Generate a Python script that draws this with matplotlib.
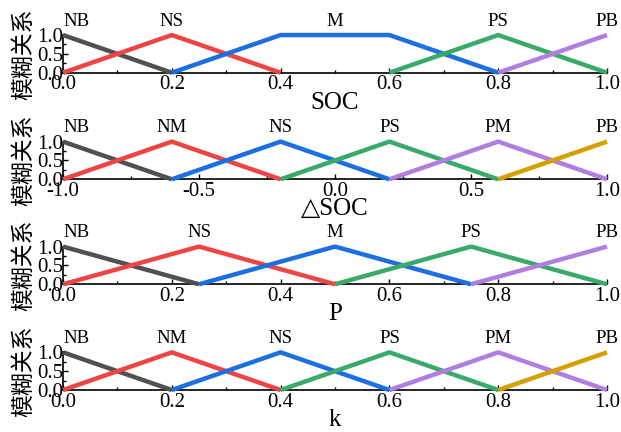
import matplotlib
matplotlib.use("Agg")
import matplotlib.pyplot as plt
from matplotlib.ticker import MultipleLocator

# membership functions: breakpoints and degrees for each fuzzy set
soc_names = ["NB", "NS", "M", "PS", "PB"]
soc_x = [[0, 0.2], [0, 0.2, 0.4], [0.2, 0.4, 0.6, 0.8], [0.6, 0.8, 1.0], [0.8, 1.0]]
soc_y = [[1, 0], [0, 1, 0], [0, 1, 1, 0], [0, 1, 0], [0, 1]]
soc_peaks = [0.0, 0.2, 0.5, 0.8, 1.0]

dsoc_names = ["NB", "NM", "NS", "PS", "PM", "PB"]
dsoc_x = [[-1, -0.6], [-1, -0.6, -0.2], [-0.6, -0.2, 0.2], [-0.2, 0.2, 0.6], [0.2, 0.6, 1.0], [0.6, 1.0]]
dsoc_y = [[1, 0], [0, 1, 0], [0, 1, 0], [0, 1, 0], [0, 1, 0], [0, 1]]
dsoc_peaks = [-1.0, -0.6, -0.2, 0.2, 0.6, 1.0]

p_names = ["NB", "NS", "M", "PS", "PB"]
p_x = [[0, 0.25], [0, 0.25, 0.5], [0.25, 0.5, 0.75], [0.5, 0.75, 1.0], [0.75, 1.0]]
p_y = [[1, 0], [0, 1, 0], [0, 1, 0], [0, 1, 0], [0, 1]]
p_peaks = [0.0, 0.25, 0.5, 0.75, 1.0]

k_names = ["NB", "NM", "NS", "PS", "PM", "PB"]
k_x = [[0, 0.2], [0, 0.2, 0.4], [0.2, 0.4, 0.6], [0.4, 0.6, 0.8], [0.6, 0.8, 1.0], [0.8, 1.0]]
k_y = [[1, 0], [0, 1, 0], [0, 1, 0], [0, 1, 0], [0, 1, 0], [0, 1]]
k_peaks = [0.0, 0.2, 0.4, 0.6, 0.8, 1.0]

xlabels = ["SOC", "\u25b3SOC", "P", "k"]
ylabel = "模糊关系"

colors = ["#505050", "#ee4444", "#1c6fe0", "#3aaa6a", "#b07ee0", "#d4a000"]
serif = ["Liberation Serif", "DejaVu Serif"]

panels = [
    (soc_names, soc_x, soc_y, soc_peaks, (0, 1), 0.2, 0.1),
    (dsoc_names, dsoc_x, dsoc_y, dsoc_peaks, (-1, 1), 0.5, 0.25),
    (p_names, p_x, p_y, p_peaks, (0, 1), 0.2, 0.1),
    (k_names, k_x, k_y, k_peaks, (0, 1), 0.2, 0.1),
]

fig = plt.figure(figsize=(6.21, 4.32), dpi=100)
bottoms = [0.8317, 0.585, 0.342, 0.0972]
height = 0.0872

for i, (names, xs, ys, peaks, xlim, major, minor) in enumerate(panels):
    ax = fig.add_axes([0.1014, bottoms[i], 0.8761, height])
    for j in range(len(names)):
        ax.plot(xs[j], ys[j], color=colors[j], lw=3.2, clip_on=False,
                solid_capstyle="butt", zorder=3)
        ha = "left" if j == 0 else "center"
        ax.text(peaks[j], 1.25, names[j], ha=ha, va="baseline",
                fontsize=13.5, family=serif)
    ax.set_xlim(*xlim)
    ax.set_ylim(0, 1)
    ax.spines["top"].set_visible(False)
    ax.spines["right"].set_visible(False)
    ax.spines["left"].set_linewidth(1.2)
    ax.spines["bottom"].set_linewidth(1.2)
    ax.xaxis.set_major_locator(MultipleLocator(major))
    ax.xaxis.set_minor_locator(MultipleLocator(minor))
    ax.yaxis.set_major_locator(MultipleLocator(0.5))
    ax.yaxis.set_minor_locator(MultipleLocator(0.25))
    ax.tick_params(which="both", direction="in", top=False, right=False, width=1)
    ax.tick_params(which="major", length=3.5)
    ax.tick_params(which="minor", length=2.5)
    ax.tick_params(axis="x", which="major", pad=2)
    ax.tick_params(axis="y", which="major", pad=0)
    for lab in ax.get_xticklabels() + ax.get_yticklabels():
        lab.set_family(serif)
        lab.set_fontsize(15)
    ax.yaxis.set_major_formatter(plt.FuncFormatter(lambda v, _: f"{v:.1f}"))
    ax.xaxis.set_major_formatter(plt.FuncFormatter(lambda v, _: f"{v:.1f}"))
    ax.set_xlabel(xlabels[i], fontsize=18, family=serif, labelpad=-2)
    ax.set_ylabel(ylabel, fontsize=16.5, family=["Noto Sans CJK SC", "DejaVu Sans"],
                  labelpad=1)

fig.savefig("out.png", dpi=100)
